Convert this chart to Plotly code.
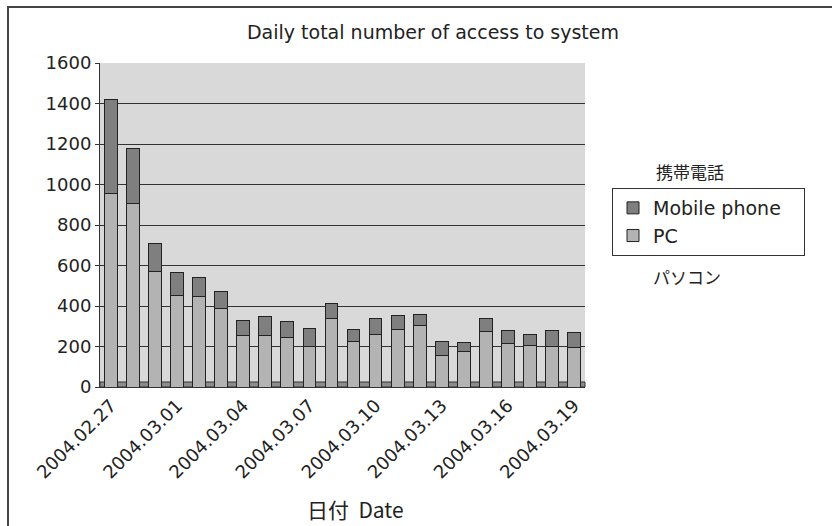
import plotly.graph_objects as go

dates = ["2004.02.27", "2004.02.28", "2004.02.29", "2004.03.01", "2004.03.02", "2004.03.03",
         "2004.03.04", "2004.03.05", "2004.03.06", "2004.03.07", "2004.03.08", "2004.03.09",
         "2004.03.10", "2004.03.11", "2004.03.12", "2004.03.13", "2004.03.14", "2004.03.15",
         "2004.03.16", "2004.03.17", "2004.03.18", "2004.03.19"]
pc = [955, 905, 570, 450, 448, 390, 255, 255, 243, 200, 337, 225,
      258, 284, 303, 155, 176, 272, 216, 206, 200, 196]
mobile = [465, 275, 138, 115, 92, 83, 75, 95, 82, 87, 75, 58,
          80, 70, 53, 70, 43, 66, 63, 51, 77, 74]
tick_labels = dates[::3]
series_names = ["PC", "Mobile phone"]

FONT = "DejaVu Sans, Liberation Sans, sans-serif"
JFONT = "Noto Sans CJK JP, DejaVu Sans, sans-serif"
PAD = "\u00a0" * 3  # widens the legend box to match the reference

fig = go.Figure()
fig.add_trace(go.Bar(x=dates, y=pc, name=series_names[0],
                     marker=dict(color="#b3b3b3", line=dict(color="#222222", width=1))))
fig.add_trace(go.Bar(x=dates, y=mobile, name=series_names[1] + PAD,
                     marker=dict(color="#7f7f7f", line=dict(color="#222222", width=1))))

L, R, T, B = 100, 247, 63, 139
W, H = 832, 526
pw, ph = W - L - R, H - T - B

def px(x):
    return (x - L) / pw

def py(y):
    return (H - B - y) / ph

fig.update_layout(
    width=W, height=H,
    margin=dict(l=L, r=R, t=T, b=B, autoexpand=False),
    barmode="stack", bargap=0.42,
    paper_bgcolor="white", plot_bgcolor="#d9d9d9",
    font=dict(family=FONT, size=17, color="#222222"),
    title=dict(text="Daily total number of access to system", xref="container", x=433 / W,
               xanchor="center", yref="container", y=1 - 32 / H, yanchor="middle",
               font=dict(size=19, family=FONT, color="#222222")),
    xaxis=dict(type="category", tickmode="array", tickvals=tick_labels, ticktext=tick_labels,
               tickangle=-45, tickfont=dict(size=18), showline=True, linecolor="#333333",
               ticks="", showgrid=False),
    yaxis=dict(range=[0, 1600], tick0=0, dtick=200, showgrid=True, gridcolor="#333333",
               gridwidth=1, showline=True, linecolor="#333333", ticks="outside", ticklen=4,
               tickcolor="#333333", tickfont=dict(size=18), zeroline=False),
    legend=dict(x=px(612), y=py(188), xanchor="left", yanchor="top",
                bordercolor="#333333", borderwidth=1, bgcolor="white",
                font=dict(size=19, family=FONT), itemwidth=30, traceorder="reversed",
                tracegroupgap=0),
    showlegend=True,
)

fig.add_annotation(text="携帯電話", x=px(690), y=py(171), xref="paper", yref="paper",
                   xanchor="center", yanchor="middle",
                   showarrow=False, font=dict(size=17, family=JFONT))
fig.add_annotation(text="パソコン", x=px(687), y=py(276), xref="paper", yref="paper",
                   xanchor="center", yanchor="middle",
                   showarrow=False, font=dict(size=17, family=JFONT))
fig.add_annotation(text="日付  Date", x=px(355), y=py(509), xref="paper", yref="paper",
                   xanchor="center", yanchor="middle",
                   showarrow=False, font=dict(size=21, family=JFONT))

# floor strip of the 3D-style chart
fig.add_shape(type="rect", xref="paper", yref="paper", x0=0, x1=1, y0=0, y1=py(382),
              fillcolor="#8c8c8c", line=dict(color="#333333", width=1), layer="below")

# outer frame
fig.add_shape(type="rect", xref="paper", yref="paper", x0=px(8), x1=px(860), y0=py(560), y1=py(7),
              line=dict(color="#444444", width=2), layer="below")

fig.write_html("out.html")
